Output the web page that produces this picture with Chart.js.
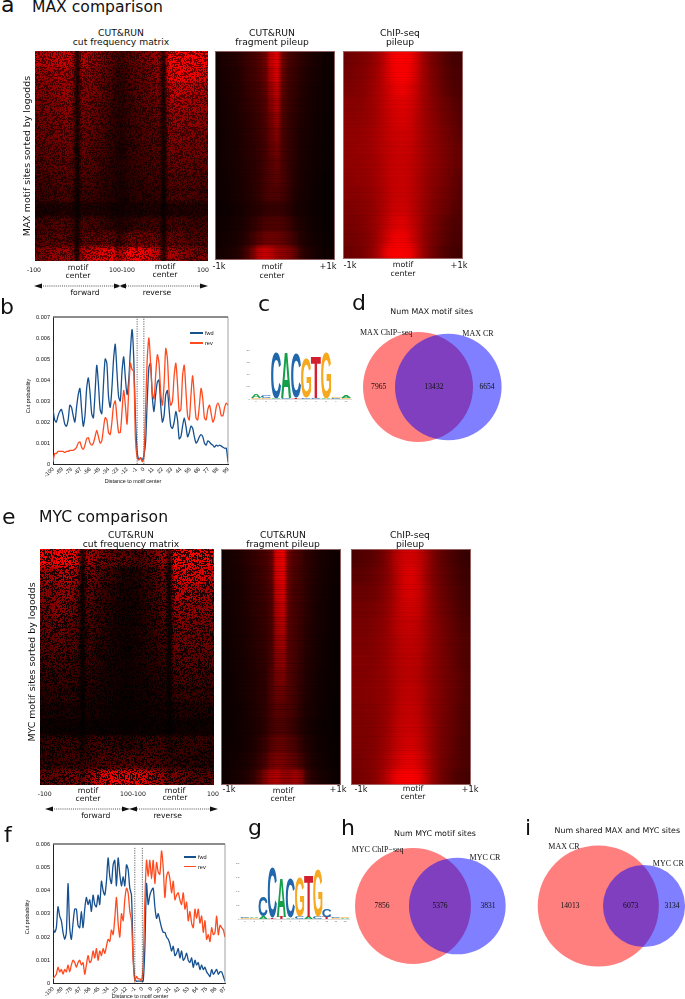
<!DOCTYPE html>
<html><head><meta charset="utf-8">
<script src="https://cdn.jsdelivr.net/npm/chart.js@4"></script>
<style>
html,body{margin:0;padding:0;background:#fff;width:685px;height:999px;overflow:hidden}
#page{position:relative;width:685px;height:999px;overflow:hidden}
.t{position:absolute;line-height:0;white-space:pre;color:#111}
.w{position:absolute;overflow:hidden}
canvas{position:absolute;display:block}
</style></head><body><div id="page"></div>
<script>
// ---------- line charts (values in units of 1e-4, every second motif position)
const unit=1e-4;
const fwdB=[26,21,20,23,25,26,23,19,18,21,28,27,23,20,27,33,36,26,18,23,36,41,34,24,22,34,47,38,26,24,38,50,48,32,27,36,50,57,44,32,30,44,51,41,33,40,54,64,50,22,6,
2,3,2,4,10,30,46,48,32,25,33,39,40,28,20,23,33,35,26,18,17,20,25,21,12,13,18,22,18,13,15,18,17,13,10,11,13,14,13,10,9,11,10.5,9.5,9,8,9,8.5,9,8.5,8,7.5,7.5,1];
const revB=[1,5,5,6,6,6,6,5.5,6,6,6.5,6.5,6.5,7,8,10,10.5,8,7,9,12,12.5,10,9,10,13,16,13,10,11,17,22,21,15,14,20,28,30,22,15,15,25,35,28,19,35,48,45,44,12,3,
2,3,1,3,25,50,60,48,34,31,42,52,48,34,28,38,55,50,34,28,30,42,48,38,25,26,42,47,35,23,21,33,42,32,22,21,28,36,31,22,21,26,28,24,20,22,27,29,27,23,23,27,29,28];
const fwdF=[24,22,24,33,29,27,22,19,22,43,24,19,26,32,32,25,24,31,24,32,37,34,36,31,38,34,33,38,34,44,40,38,44,54,46,43,51,53,42,54,47,42,46,42,51,49,41,38,12,2,
1,1,1,1,1,15,43,34,38,40,41,33,28,30,27,24,22,22,20,19,17,14,16,12,13,15,11,14,10,11,13,10,9,11,7,10,8,9,6,8,6,7,5,4,3,6,4,5,6,4,5,5,3,1];
const revF=[2,3,4,7,5,6,4,6,5,8,5,8,10,9,7,9,10,8,9,4,8,12,9,10,14,11,15,10,14,12,15,13,16,19,18,23,21,28,37,26,20,30,27,36,41,39,31,27,10,1,
3,2,2,1,8,35,53,46,53,45,53,43,52,48,47,57,50,37,46,48,45,39,44,36,38,39,36,34,39,32,35,27,31,26,24,32,28,32,26,29,22,27,19,21,18,24,21,22,29,21,25,24,23,20];
const tickPosB=[0,11,22,33,44,55,66,77,88,99,108,119,130,141,152,163,174,185,196,208];
const tickLabB=['-100','-89','-78','-67','-56','-45','-34','-23','-12','-1','0','11','22','33','44','55','66','77','88','99'];
const tickPosF=[0,11,22,33,44,55,66,77,88,98,107,118,129,140,151,162,173,184,195,206];
const tickLabF=['-100','-89','-78','-67','-56','-45','-34','-23','-12','-1','0','9','20','31','42','53','64','75','86','97'];
// ---------- venn counts [only A, both, only B]
const vennD=[7965,13432,6654], vennH=[7856,5376,3831], vennI=[14013,6073,3134];
// ---------- sequence logos (bits per position, two stacked layers)
const logoCLow=[.05,.05,.03,.05,.05,.06,.03,.03,.03,.04];
const logoCLowL=['G','G','A','C','T','C','C','A','C','G'];
const logoCTop=[.13,.12,1.9,1.83,1.83,1.62,1.68,1.9,.03,.08];
const logoCTopL=['A','C','C','A','C','G','T','G','G','A'];
const logoGLow=[.02,.03,.08,.03,.08,.04,.08,.08,.08,.08,.03,.03];
const logoGLowL=['G','G','A','T','T','A','C','A','C','T','G','A'];
const logoGTop=[.02,.02,.7,1.78,1.38,1.4,1.42,1.5,1.7,.3,.02,.03];
const logoGTopL=['C','A','C','C','A','C','G','T','G','C','C','G'];
// ---------- heat maps: rows top to bottom, values are percent of full red
const heatA1=[
[60,58,58,60,62,64,66,60,12,58,55,50,46,40,34,30,24,22,28,32,36,38,42,44,50,12,85,88,90,92,90,88,86,84],
[50,48,48,50,52,54,56,50,10,50,46,42,38,34,28,24,18,18,24,28,30,32,36,40,44,10,76,78,78,78,76,74,72,70],
[44,42,42,44,46,48,50,46,10,44,42,38,36,30,26,22,16,16,22,26,28,30,32,36,38,10,62,64,64,62,62,60,58,56],
[40,38,38,40,42,44,46,42,8,42,38,36,32,28,24,20,16,15,20,24,26,28,30,32,36,8,54,54,54,54,52,52,50,48],
[36,36,36,38,40,40,42,38,8,38,36,32,30,26,22,18,14,14,18,22,24,26,28,30,32,8,46,48,48,46,46,44,44,42],
[34,34,34,36,36,38,40,36,8,36,34,30,28,24,20,18,14,14,18,20,22,24,26,28,30,8,42,42,44,42,42,40,40,38],
[30,30,32,32,34,34,36,32,6,34,30,28,26,22,20,16,12,12,16,20,22,22,24,26,28,6,38,38,38,38,36,36,36,34],
[28,28,28,30,30,32,32,30,6,30,28,26,24,20,18,14,12,12,14,18,20,20,22,24,26,6,32,34,34,32,32,32,30,30],
[24,24,24,26,26,26,28,26,6,26,24,22,20,18,16,14,10,10,14,16,18,18,20,20,22,6,28,28,28,28,28,26,26,26],
[22,20,20,22,22,24,24,22,4,22,22,20,18,16,14,12,10,10,12,14,16,16,18,18,20,4,24,24,24,24,24,24,22,22],
[12,10,10,10,12,12,12,12,3,12,10,10,10,10,8,8,6,6,8,8,8,10,10,10,10,3,12,12,12,12,12,12,12,12],
[22,22,24,24,26,26,26,22,5,26,24,24,22,20,18,16,12,12,16,18,20,22,22,22,24,5,26,24,24,24,22,22,22,22],
[26,26,28,28,30,30,32,26,7,32,32,32,32,32,32,32,18,24,36,36,36,36,36,34,34,7,34,32,30,28,26,26,26,26],
[38,40,42,46,48,50,52,46,12,58,62,66,68,72,74,74,50,60,82,82,80,76,72,66,60,12,56,52,48,44,40,40,40,40]];
const heatA2=[
[8,12,14,16,20,26,30,36,48,85,99,48,32,26,20,16,12,10,7,5],
[7,11,13,15,18,24,28,34,44,78,95,44,30,24,18,14,11,9,6,5],
[7,10,12,14,17,22,26,30,40,66,84,40,28,22,16,13,10,8,6,4],
[6,10,11,13,16,20,24,28,36,58,74,36,26,20,15,12,9,8,6,4],
[6,9,11,12,15,18,22,26,34,50,66,34,24,19,14,11,9,7,5,4],
[6,8,10,12,14,18,21,25,32,46,58,32,24,18,13,11,8,7,5,4],
[5,8,10,11,14,17,20,24,30,42,50,32,24,18,13,10,8,6,5,4],
[5,8,9,11,13,16,19,23,30,38,44,32,24,17,12,10,8,6,5,4],
[5,7,9,10,13,15,19,22,30,36,40,32,24,16,12,9,7,6,4,3],
[5,7,8,10,12,15,18,22,30,34,34,30,22,15,11,9,7,5,4,3],
[4,6,7,8,10,13,16,18,22,24,24,22,18,13,10,8,6,5,4,3],
[5,7,8,10,12,15,20,26,32,34,34,32,26,18,13,10,7,6,4,4],
[6,8,9,11,14,19,28,38,46,48,46,42,34,25,16,12,9,7,5,4],
[8,10,12,14,20,32,52,80,88,82,68,62,56,42,24,16,12,9,7,5]];
const heatA3=[
[44,46,48,50,54,60,68,82,96,99,99,96,84,66,54,46,40,33,29,27],
[46,48,50,52,56,62,70,82,94,99,99,94,82,66,56,48,42,35,31,29],
[50,50,52,54,58,64,70,80,88,94,94,88,78,66,58,50,44,37,33,31],
[54,54,54,56,60,64,70,78,84,88,88,84,76,66,58,52,46,42,37,33],
[56,56,56,58,60,64,70,76,82,86,86,82,74,66,60,54,48,44,40,35],
[58,58,58,60,62,66,70,76,80,82,82,80,74,66,60,56,50,46,42,37],
[58,58,60,60,62,66,70,74,78,80,80,78,72,66,60,56,52,48,44,40],
[58,58,58,60,62,64,68,74,78,80,80,76,72,66,60,56,52,48,44,40],
[56,56,58,58,60,64,68,74,78,80,80,76,70,64,58,54,50,46,42,37],
[54,54,54,56,58,62,66,72,78,80,80,76,70,64,58,52,48,44,40,35],
[50,50,52,54,56,60,66,72,80,82,82,76,70,62,56,50,46,42,37,33],
[48,48,50,52,56,60,68,76,84,88,88,80,72,62,54,48,42,37,33,31],
[46,46,48,50,54,60,70,82,92,96,94,86,74,62,52,46,40,35,31,29],
[44,44,46,48,54,62,76,94,99,99,99,96,80,64,52,44,37,31,29,26]];
const heatE1=[
[85,80,75,78,85,90,85,70,12,55,50,45,40,35,32,30,30,30,25,25,30,32,35,45,55,15,90,95,95,95,90,88,85,82],
[55,55,52,55,60,62,58,50,5,42,36,30,26,22,18,15,12,10,12,14,18,20,24,30,38,5,70,72,74,74,70,70,68,66],
[42,42,42,45,48,48,44,38,4,34,28,24,20,16,14,12,9,8,10,12,15,18,22,26,34,4,58,60,60,58,56,56,54,52],
[34,36,40,44,44,40,36,32,4,30,24,20,18,14,12,10,8,8,9,10,12,16,20,24,30,4,48,50,48,46,46,44,44,42],
[30,32,34,38,38,34,30,28,4,26,22,18,16,12,10,9,7,7,8,10,12,14,18,22,26,4,40,42,40,40,38,38,36,36],
[26,28,30,30,30,28,26,24,3,22,20,16,14,12,10,8,7,7,8,10,12,14,16,20,24,3,36,36,36,34,34,34,32,32],
[22,24,24,26,26,24,22,20,3,20,18,14,12,10,9,8,6,6,8,9,10,12,14,16,20,3,30,30,30,30,28,28,28,28],
[18,20,20,20,20,20,18,18,3,16,14,12,10,9,8,7,6,6,7,8,9,10,12,14,16,3,24,24,24,24,24,24,22,22],
[14,14,16,16,16,16,14,14,2,14,12,10,9,8,7,6,5,5,6,7,8,9,10,12,12,2,18,18,18,18,18,18,18,18],
[10,10,10,10,10,10,10,10,2,10,8,8,7,6,6,5,4,4,5,5,6,6,7,8,9,2,12,12,12,12,12,12,12,12],
[5,5,5,5,5,5,5,5,1,5,5,4,4,4,4,4,3,3,4,4,4,4,5,5,5,1,6,6,6,6,6,6,6,6],
[18,18,18,18,20,20,20,18,8,20,22,22,22,20,20,18,16,16,18,20,20,22,22,20,20,10,18,18,18,18,18,18,18,18],
[16,18,18,18,20,20,20,20,16,20,22,24,26,26,26,26,26,26,26,26,26,26,24,22,22,16,20,18,18,18,16,16,16,16],
[28,30,30,32,34,36,38,40,30,45,55,65,70,75,75,75,75,75,80,75,70,65,55,50,45,30,40,36,34,30,28,28,28,28]];
const heatE2=[
[8,10,12,14,18,22,26,30,40,95,99,45,34,28,20,16,12,10,8,6],
[7,10,11,13,16,20,24,28,38,90,96,42,32,26,20,15,12,9,7,6],
[6,9,10,12,15,19,22,26,34,82,90,40,30,26,19,14,11,8,6,5],
[6,8,10,12,14,18,21,24,32,74,84,38,30,25,18,13,10,8,6,5],
[6,8,9,11,13,17,20,23,30,68,76,36,30,24,17,13,10,8,6,5],
[5,7,9,10,13,16,19,22,30,62,68,36,30,23,16,12,9,7,5,4],
[5,7,8,10,12,15,18,21,30,56,60,36,30,22,15,12,9,7,5,4],
[5,6,8,9,11,14,17,20,32,50,52,36,28,21,14,11,8,6,5,4],
[4,6,7,9,11,14,17,20,32,44,44,34,28,20,14,10,8,6,4,4],
[4,6,7,8,10,13,16,20,30,38,36,32,26,18,12,10,7,6,4,3],
[4,5,6,8,9,12,15,19,28,32,32,28,22,15,11,8,6,5,4,3],
[4,6,7,8,10,13,18,24,36,42,42,36,30,21,14,10,7,6,4,4],
[5,7,8,10,12,16,22,30,46,52,50,44,38,28,18,12,9,7,5,4],
[6,8,10,12,15,22,34,54,70,74,64,62,68,58,26,16,12,9,7,5]];
const heatE3=[
[30,32,34,36,40,46,56,70,80,84,84,78,68,54,44,38,32,28,24,22],
[36,36,38,40,44,48,56,68,80,88,88,80,66,54,46,40,34,30,26,24],
[42,42,42,44,46,52,58,68,80,86,86,80,68,56,48,42,36,32,28,26],
[46,46,46,48,50,54,60,70,78,82,82,78,68,58,50,44,40,34,30,28],
[48,48,48,50,52,56,62,70,76,78,78,74,66,58,52,46,42,36,32,30],
[50,50,50,52,54,58,62,68,74,76,76,72,66,58,52,48,42,38,34,32],
[52,52,52,52,54,58,62,68,72,74,74,72,64,58,52,48,44,38,34,32],
[52,52,52,54,56,58,62,68,72,74,74,70,64,58,52,48,44,40,36,32],
[52,52,54,54,56,58,62,68,74,76,76,72,66,58,54,48,44,40,36,32],
[50,50,52,52,54,58,62,70,76,78,78,74,66,58,52,48,44,38,34,32],
[50,50,50,52,54,58,64,72,78,80,80,76,68,60,52,46,42,38,34,30],
[50,50,50,52,54,60,66,74,80,84,84,78,70,60,52,46,42,36,32,30],
[48,48,50,52,56,62,70,78,86,90,90,84,74,62,52,46,40,36,32,30],
[46,48,50,52,58,66,78,92,99,99,99,94,80,64,52,44,38,32,30,28]];
// hand-typed dither tiles (16x16 and 13x13 bits) for the cut-frequency speckle
const speckleA=[0xA6D3,0x5B29,0xC47E,0x39A5,0x8E1B,0x72C6,0xD538,0x2B9D,0x96E1,0x4C77,0xB30A,0x6DC9,0x1FA4,0xE25B,0x58B6,0xA7D1];
const speckleB=[0x1A5B,0x0C72,0x16E3,0x093D,0x1D48,0x05B6,0x12C9,0x0E17,0x1B64,0x07A9,0x14D2,0x0B3E,0x1865];
// hand-typed darkening of the fine horizontal streaks in the pileup maps
const streaks=[.1,.3,.05,.5,.15,.35,0,.2,.6,.1,.25,.05,.45,.2,0,.35,.1,.55,.15,.3,.05,.4,.2];

Chart.defaults.animation=false;
Chart.defaults.responsive=false;
Chart.defaults.plugins.legend.display=false;
Chart.defaults.plugins.tooltip.enabled=false;
const page=document.getElementById('page');
const SANS='"DejaVu Sans"',SERIF='"Liberation Serif"',ARIAL='"Liberation Sans"';
function T(x,b,s,size,o={}){
  const e=document.createElement('div');e.className='t';e.textContent=s;
  const f=o.font||SANS;e.style.fontFamily=f;e.style.fontSize=size+'px';
  const k=f===SANS?.346:.338;
  e.style.left=x+'px';e.style.top=(o.rot?b:b-k*size)+'px';
  let tr=o.left?'':'translateX(-50%)';if(o.rot)tr+=' rotate(-90deg)';
  e.style.transform=tr;if(o.color)e.style.color=o.color;page.appendChild(e);
}
function cv(x,y,w,h,parent){
  const c=document.createElement('canvas');c.width=w;c.height=h;
  c.style.left=x+'px';c.style.top=y+'px';c.style.width=w+'px';c.style.height=h+'px';
  (parent||page).appendChild(c);return c;
}
function heat(x,y,w,h,m,o={}){
  const R=m.length,C=m[0].length,cw=w/C,ch=h/R;
  const wrap=document.createElement('div');wrap.className='w';
  Object.assign(wrap.style,{left:x+'px',top:y+'px',width:w+'px',height:h+'px',background:'#200'});
  page.appendChild(wrap);
  const cols=[...m[0].keys()];
  const pad=[m[0],...m,m[R-1]].map(r=>[r[0],...r,r[C-1]]);
  const gain=o.gain||1;
  const c=cv(-cw,-ch,Math.round(w+2*cw),Math.round(h+2*ch),wrap);
  c.style.filter=`blur(${o.blur||2}px)`;
  new Chart(c,{type:'bar',data:{labels:['',...cols,''],datasets:pad.map(r=>({
      data:r.map(()=>1),
      backgroundColor:r.map(v=>`rgb(${Math.min(255,Math.round(v*2.55*gain))},0,0)`),
      barPercentage:1,categoryPercentage:1,borderWidth:0,inflateAmount:1,stack:'a'}))},
    options:{layout:{padding:0},scales:{x:{display:false,stacked:true},y:{display:false,stacked:true,reverse:true,min:0,max:R+2}}}});
  const iw=Math.ceil(w),ih=Math.ceil(h);
  if(o.grain){
    const g=cv(0,0,iw,ih,wrap),ctx=g.getContext('2d');
    ctx.fillStyle=`rgba(0,0,0,${o.grain})`;
    for(let j=0;j<ih;j++)for(let i=0;i<iw;i++){
      const a=(speckleA[j%16]>>(i%16))&1,b=(speckleB[j%13]>>(i%13))&1;
      if(a^b)ctx.fillRect(i,j,1,1);
    }
    g.style.filter=`blur(${o.grainBlur||.5}px)`;
  }
  if(o.streak){
    const g=cv(0,0,iw,ih,wrap),ctx=g.getContext('2d');
    for(let j=0;j<ih;j++){ctx.fillStyle=`rgba(0,0,0,${streaks[(j+(o.off||0))%streaks.length]*o.streak})`;ctx.fillRect(0,j,iw,1);}
  }
  if(o.frame){const f=document.createElement('div');
    Object.assign(f.style,{position:'absolute',left:0,top:0,right:0,bottom:0,boxShadow:'inset 0 0 0 1px rgba(170,120,120,.8)'});
    wrap.appendChild(f);}
}
const frame={id:'frame',afterDraw(ch){const a=ch.chartArea,c=ch.ctx;c.save();c.strokeStyle='#666';
  c.lineWidth=1.4;c.beginPath();c.moveTo(a.left,a.top);c.lineTo(a.right,a.top);c.stroke();
  c.lineWidth=.8;c.strokeStyle='#888';c.beginPath();c.moveTo(a.right,a.top);c.lineTo(a.right,a.bottom);c.stroke();c.restore();}};
function lineChart(x,y,w,h,area,fwd,rev,tp,tl,ymax,dash,dashTop){
  const c=cv(x,y,w,h),pts=a=>a.map((v,i)=>({x:i*2,y:v*unit}));
  const dl=u=>({data:[{x:u,y:0},{x:u,y:dashTop*unit}],borderColor:'#555',borderWidth:.9,borderDash:[1.2,1.2],pointRadius:0,order:0});
  new Chart(c,{type:'line',data:{datasets:[
    {label:'fwd',data:pts(fwd),borderColor:'#17508f',borderWidth:1.3,pointRadius:0,tension:.25,order:2},
    {label:'rev',data:pts(rev),borderColor:'#ff4b20',borderWidth:1.3,pointRadius:0,tension:.25,order:1},
    dl(dash[0]),dl(dash[1])]},
   options:{layout:{padding:{left:0,right:w-area.r,top:area.t,bottom:0}},
    scales:{
     x:{type:'linear',min:0,max:tp[tp.length-1],grid:{display:false,drawTicks:true,tickLength:2,tickColor:'#222'},border:{color:'#222',width:1},
        afterBuildTicks:s=>{s.ticks=tp.map(v=>({value:v}));},
        afterFit:s=>{s.height=h-area.b;},
        ticks:{autoSkip:false,minRotation:45,maxRotation:45,padding:0,color:'#111',font:{family:ARIAL,size:5.6},
          callback:(v)=>tl[tp.indexOf(v)]}},
     y:{min:0,max:ymax*unit,grid:{display:false,tickLength:2,tickColor:'#222'},border:{color:'#222',width:1},
        afterFit:s=>{s.width=area.l;},
        afterBuildTicks:s=>{const t=[];for(let i=0;i<=ymax;i+=10)t.push({value:i*unit});s.ticks=t;},
        ticks:{padding:1,color:'#111',font:{family:ARIAL,size:5.6},
          callback:v=>{const n=Math.round(v*1e4)/1e4;return n===0?'0':n.toFixed(3);}}}
    }},plugins:[frame]});
}
function venn(x,y,w,h,counts,k,ca,cb,cy){
  const c=cv(x,y,w,h);
  const ra=k*Math.sqrt(counts[0]+counts[1]),rb=k*Math.sqrt(counts[1]+counts[2]),M=Math.max(ra,rb);
  new Chart(c,{type:'bubble',data:{datasets:[
    {data:[{x:ca-x,y:cy-y,r:ra}],backgroundColor:'rgba(255,0,0,.5)',borderWidth:0,order:2,clip:false},
    {data:[{x:cb-x,y:cy-y,r:rb}],backgroundColor:'rgba(0,0,255,.5)',borderWidth:0,order:1,clip:false}]},
   options:{layout:{padding:0},scales:{x:{display:false,min:M,max:w-M},y:{display:false,min:M,max:h-M,reverse:true}}}});
}
const logoColor={A:'#14a04a',C:'#2068ab',G:'#f6a81e',T:'#d3202e'};
const logoPlugin={id:'logo',afterDatasetsDraw(ch){const c=ch.ctx;
  ch.data.datasets.forEach((d,di)=>{ch.getDatasetMeta(di).data.forEach((b,i)=>{
    const h=Math.abs(b.base-b.y),W=b.width;if(h<.4)return;const L=d.letters[i];
    c.save();c.font='bold 100px "Liberation Sans"';c.fillStyle=logoColor[L];
    const m=c.measureText(L),bw=m.actualBoundingBoxLeft+m.actualBoundingBoxRight,bh=m.actualBoundingBoxAscent+m.actualBoundingBoxDescent;
    c.translate(b.x-W/2,b.base);c.scale(W/bw,h/bh);
    c.textAlign='left';c.textBaseline='alphabetic';
    c.fillText(L,m.actualBoundingBoxLeft,-m.actualBoundingBoxDescent);c.restore();
  });});}};
function logo(x,y,w,h,area,low,lowL,top,topL){
  const c=cv(x,y,w,h);
  const ds=(d,l)=>({data:d,letters:l,backgroundColor:'transparent',barPercentage:1,categoryPercentage:1,stack:'s'});
  new Chart(c,{type:'bar',data:{labels:low.map((_,i)=>String(i+1)),datasets:[ds(low,lowL),ds(top,topL)]},
   options:{layout:{padding:{left:0,right:w-area.r,top:area.t,bottom:0}},scales:{
     x:{stacked:true,grid:{display:false,tickLength:1,tickColor:'#888'},border:{color:'#bbb',width:.5},afterFit:s=>{s.height=h-area.b;},
        ticks:{padding:0,autoSkip:false,maxRotation:0,color:'#666',font:{family:ARIAL,size:2.5}}},
     y:{stacked:true,min:0,max:2,grid:{display:false,tickLength:1,tickColor:'#888'},border:{display:false},afterFit:s=>{s.width=area.l;},
        ticks:{stepSize:.5,padding:0,color:'#555',font:{family:ARIAL,size:2.5}}}}},plugins:[logoPlugin]});
}
function leg(x1,x2,y,col,s,tx){
  const d=document.createElement('div');
  Object.assign(d.style,{position:'absolute',left:x1+'px',top:(y-.6)+'px',width:(x2-x1)+'px',height:'1.2px',background:col});page.appendChild(d);
  T(tx,y+2,s,5.6,{font:ARIAL,left:true});
}
function arrows(yy,a,b,c1,c2,d){
  const s=document.createElementNS('http://www.w3.org/2000/svg','svg');
  s.setAttribute('width',685);s.setAttribute('height',999);s.style.cssText='position:absolute;left:0;top:0;pointer-events:none';
  s.innerHTML=`<path d="M${a+7} ${yy}H${b-6}M${c2} ${yy}H${d-7}" stroke="#222" stroke-width=".8" stroke-dasharray="1 1.1" fill="none"/>
  <path d="M${a} ${yy}l8 -2.6v5.2zM${b+1} ${yy}l-8 -2.6v5.2zM${c1} ${yy}l8 -2.6v5.2zM${d} ${yy}l-8 -2.6v5.2z" fill="#111"/>`;
  page.appendChild(s);
}

// ----- heat maps
heat(35,51,173,210,heatA1,{blur:1.6,gain:1.25,grain:.55,grainBlur:.5});
heat(214.5,51,120,209,heatA2,{blur:1.7,gain:.92,frame:1,streak:.3});
heat(343,51,119.5,208,heatA3,{blur:2.5,frame:1,streak:.12,off:5});
heat(40,549,174,236,heatE1,{blur:1.6,gain:1.25,grain:.8,grainBlur:.4});
heat(221.3,549,120,236,heatE2,{blur:1.7,gain:.95,frame:1,streak:.35,off:9});
heat(351,549,120,236,heatE3,{blur:2.5,frame:1,streak:.14,off:14});
// ----- line charts
lineChart(0,300,240,190,{l:53,r:228,t:17,b:164},fwdB,revB,tickPosB,tickLabB,70,[100,108],70);
lineChart(0,820,240,179,{l:53,r:225,t:24,b:163.5},fwdF,revF,tickPosF,tickLabF,60,[98,107],58.5);
leg(190,203,333,'#17508f','fwd',205);leg(190,203,343,'#ff4b20','rev',205);
leg(184,196,857,'#17508f','fwd',198);leg(184,196,866.7,'#ff4b20','rev',198);
T(133,483,'Distance to motif center',5.4,{font:ARIAL});
T(28,396,'Cut probability',5.4,{font:ARIAL,rot:1});
T(140,998,'Distance to motif center',5.4,{font:ARIAL});
T(27,917,'Cut probability',5.4,{font:ARIAL,rot:1});
// ----- logos
logo(235,340,122,70,{l:16,r:116,t:10,b:59},logoCLow,logoCLowL,logoCTop,logoCTopL);
logo(230,855,125,75,{l:10.5,r:119.5,t:8,b:64},logoGLow,logoGLowL,logoGTop,logoGTopL);
// ----- venn
venn(355,325,160,130,vennD,.376,418,448.3,387);
venn(345,840,180,135,vennH,.504,413,457.3,906);
venn(530,840,155,135,vennI,.4275,598.3,644,906);
// ----- text
T(1,13,'a',22,{left:1});T(32,12,'MAX comparison',15.6,{left:1});
T(0,315,'b',22,{left:1});T(258,311.5,'c',22,{left:1});T(352,311,'d',22,{left:1});
T(2,525,'e',22,{left:1});T(39,522,'MYC comparison',15.6,{left:1});
T(4,843,'f',22,{left:1});T(248,836,'g',22,{left:1});T(341,836,'h',22,{left:1});T(525,836,'i',22,{left:1});
const S=9.2;
T(121,36,'CUT&RUN',S);T(121,45.5,'cut frequency matrix',S);
T(272,36,'CUT&RUN',S);T(272,45.5,'fragment pileup',S);
T(400,36,'ChIP-seq',S);T(400,45.5,'pileup',S);
T(34,272,'-100',6.2);T(78,271,'motif',7.8);T(78,279,'center',7.8);T(122,272,'100-100',6.2);T(165,270,'motif',7.8);T(165,278,'center',7.8);T(203,272,'100',6.2);
T(219,269,'-1k',8.2);T(272,270,'motif',7.8);T(272,279,'center',7.8);T(328,269,'+1k',8.2);
T(350,268,'-1k',8.2);T(403,268,'motif',7.8);T(403,277,'center',7.8);T(459,268,'+1k',8.2);
arrows(286,34,121,118,126,208);
T(85,296,'forward',7.6);T(157,296,'reverse',7.6);
T(27,156,'MAX motif sites sorted by logodds',9.4,{rot:1});
T(131,537.7,'CUT&RUN',S);T(131,547,'cut frequency matrix',S);
T(283,537.7,'CUT&RUN',S);T(283,547,'fragment pileup',S);
T(410,537.7,'ChIP-seq',S);T(410,547,'pileup',S);
T(44.7,796,'-100',6.2);T(88,794,'motif',7.8);T(88,802,'center',7.8);T(133,796,'100-100',6.2);T(175,793.7,'motif',7.8);T(175,801,'center',7.8);T(213,796,'100',6.2);
T(229,792,'-1k',8.2);T(283,794,'motif',7.8);T(283,802,'center',7.8);T(338,792,'+1k',8.2);
T(361,792,'-1k',8.2);T(413,792,'motif',7.8);T(413,800,'center',7.8);T(470,792,'+1k',8.2);
arrows(809,45,129,129,137,218);
T(95.7,818.5,'forward',7.6);T(167.7,818.5,'reverse',7.6);
T(32,662,'MYC motif sites sorted by logodds',9.4,{rot:1});
const V=7.6;
T(431.7,315,'Num MAX motif sites',7.9);
T(360,336,'MAX ChIP\u2212seq',8,{font:SERIF,left:1});T(478,337,'MAX CR',8,{font:SERIF});
T(378.7,390,String(vennD[0]),V,{font:SERIF});T(434,390,String(vennD[1]),V,{font:SERIF});T(487,390,String(vennD[2]),V,{font:SERIF});
T(435,836.7,'Num MYC motif sites',7.9);
T(351.7,852.7,'MYC ChIP\u2212seq',8,{font:SERIF,left:1});T(485,860.7,'MYC CR',8,{font:SERIF});
T(382,908.7,String(vennH[0]),V,{font:SERIF});T(440,908.7,String(vennH[1]),V,{font:SERIF});T(488,908.7,String(vennH[2]),V,{font:SERIF});
T(617.3,834,'Num shared MAX and MYC sites',7.9);
T(564,849.3,'MAX CR',8,{font:SERIF});T(668.3,866.7,'MYC CR',8,{font:SERIF});
T(570,908.7,String(vennI[0]),V,{font:SERIF});T(630.7,908.7,String(vennI[1]),V,{font:SERIF});T(672,908.7,String(vennI[2]),V,{font:SERIF});
</script></body></html>
